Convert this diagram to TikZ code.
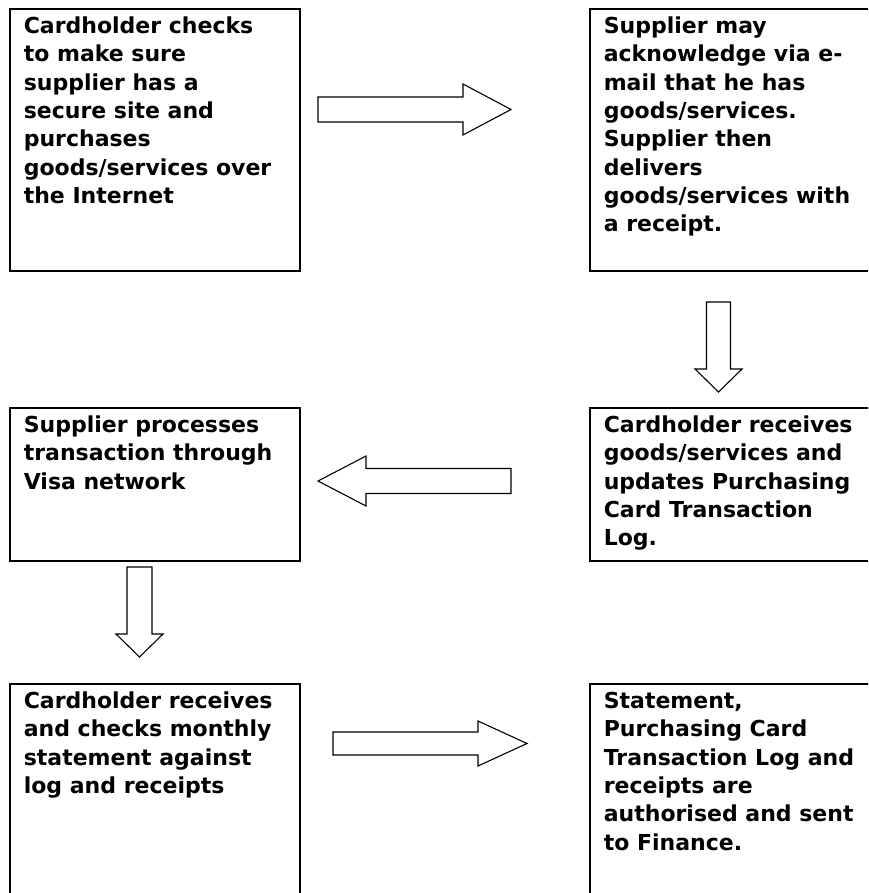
\documentclass[tikz,border=0pt]{standalone}
\usepackage{fontspec}
\setmainfont{DejaVu Sans}
\newcommand{\boxtext}[2]{\parbox[t][#1][t]{262pt}{\raggedright\strut #2}}
\begin{document}
\begin{tikzpicture}[
    x=1pt, y=-1pt,
    every node/.style={font=\bfseries\fontsize{22}{28.3}\selectfont},
    box/.style={draw, line width=1.6pt, inner xsep=14pt, inner ysep=5pt, anchor=north west},
    blockarr/.style={draw, line width=1.1pt, fill=white, line join=miter}
  ]
  \useasboundingbox[fill=white] (0,0) rectangle (868,893);
  \clip (0,0) rectangle (868,893);

  % top row
  \node[box] (buy) at (9,8) {\boxtext{252pt}{Cardholder checks\\ to make sure\\ supplier has a\\ secure site and\\ purchases\\ goods/services over\\ the Internet}};
  \node[box] (deliver) at (589,8) {\boxtext{252pt}{Supplier may\\ acknowledge via e-\\ mail that he has\\ goods/services.\\ Supplier then\\ delivers\\ goods/services with\\ a receipt.}};

  % middle row
  \node[box] (process) at (9,407) {\boxtext{143pt}{Supplier processes\\ transaction through\\ Visa network}};
  \node[box] (receive) at (589,407) {\boxtext{143pt}{Cardholder receives\\ goods/services and\\ updates Purchasing\\ Card Transaction\\ Log.}};

  % bottom row
  \node[box] (check) at (9,683) {\boxtext{252pt}{Cardholder receives\\ and checks monthly\\ statement against\\ log and receipts}};
  \node[box] (finance) at (589,683) {\boxtext{252pt}{Statement,\\ Purchasing Card\\ Transaction Log and\\ receipts are\\ authorised and sent\\ to Finance.}};

  % block arrows
  \coordinate (tip1) at (511,109.5);
  \draw[blockarr] (tip1) -- ++(-48,-25.5) -- ++(0,13) -- ++(-145,0) -- ++(0,25) -- ++(145,0) -- ++(0,13) -- cycle;

  \coordinate (tip2) at (718.5,392);
  \draw[blockarr] (tip2) -- ++(-23.5,-23) -- ++(11.5,0) -- ++(0,-67) -- ++(24,0) -- ++(0,67) -- ++(11.5,0) -- cycle;

  \coordinate (tip3) at (318,481);
  \draw[blockarr] (tip3) -- ++(48,-25) -- ++(0,12.5) -- ++(145,0) -- ++(0,25) -- ++(-145,0) -- ++(0,12.5) -- cycle;

  \coordinate (tip4) at (139.5,657);
  \draw[blockarr] (tip4) -- ++(-23.5,-23) -- ++(11,0) -- ++(0,-67) -- ++(25,0) -- ++(0,67) -- ++(11,0) -- cycle;

  \coordinate (tip5) at (527,743.5);
  \draw[blockarr] (tip5) -- ++(-49,-22.5) -- ++(0,11) -- ++(-145,0) -- ++(0,23) -- ++(145,0) -- ++(0,11) -- cycle;
\end{tikzpicture}
\end{document}
